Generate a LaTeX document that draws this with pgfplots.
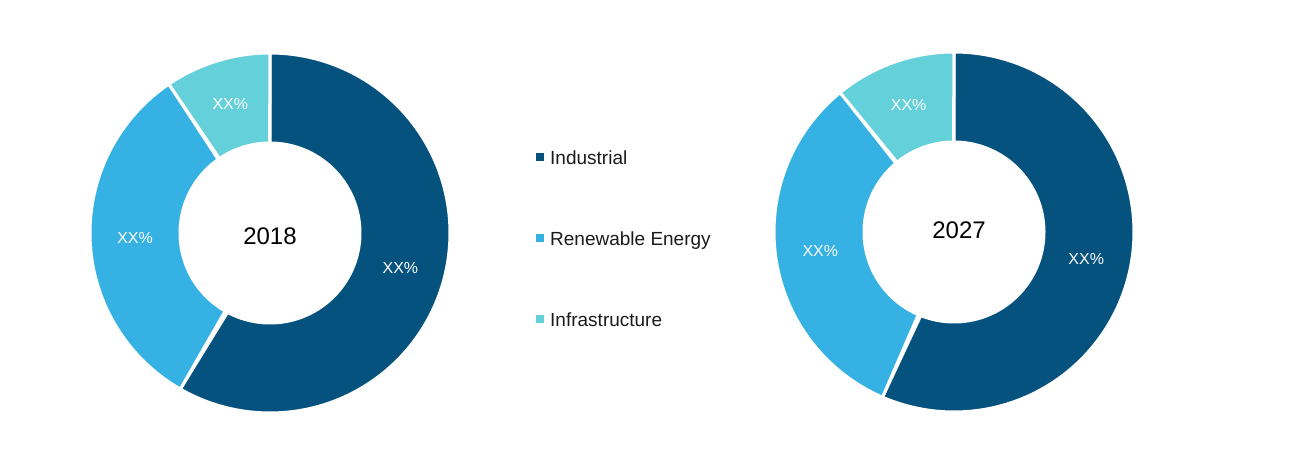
\documentclass[border=0pt]{standalone}
\usepackage{fontspec}
\setmainfont{Liberation Sans}
\usepackage{pgfplots}
\usepackage{pgfplotstable}
\pgfplotsset{compat=1.18}
\definecolor{cInd}{HTML}{05527F}
\definecolor{cRen}{HTML}{35B1E3}
\definecolor{cInf}{HTML}{63D0DA}
\definecolor{cTxt}{HTML}{1A1A1A}

\pgfplotstableread{
year Industrial Renewable Infrastructure
2018 58.3 32.2 9.5
2027 56.5 32.6 10.9
}\shares

\pgfplotstablegetelem{0}{Industrial}\of\shares \let\IndA\pgfplotsretval
\pgfplotstablegetelem{0}{Renewable}\of\shares \let\RenA\pgfplotsretval
\pgfplotstablegetelem{1}{Industrial}\of\shares \let\IndB\pgfplotsretval
\pgfplotstablegetelem{1}{Renewable}\of\shares \let\RenB\pgfplotsretval

% angles (clockwise from 12 o'clock)
\pgfmathsetmacro\aOne{90-3.6*\IndA}
\pgfmathsetmacro\aTwo{\aOne-3.6*\RenA}
\pgfmathsetmacro\bOne{90-3.6*\IndB}
\pgfmathsetmacro\bTwo{\bOne-3.6*\RenB}

% label positions
\newcommand\labpos[5]{% name, cx, cy, a1, a2
  \pgfmathsetmacro\tmpm{(#4+#5)/2}%
  \pgfmathsetmacro\tmpx{#2+135*cos(\tmpm)}%
  \pgfmathsetmacro\tmpy{#3+135*sin(\tmpm)}%
  \expandafter\let\csname #1x\endcsname\tmpx
  \expandafter\let\csname #1y\endcsname\tmpy}
\labpos{lAi}{270}{224}{90}{\aOne}
\labpos{lAr}{270}{224}{\aOne}{\aTwo}
\labpos{lAf}{270}{224}{\aTwo}{-270}
\labpos{lBi}{954}{225}{90}{\bOne}
\labpos{lBr}{954}{225}{\bOne}{\bTwo}
\labpos{lBf}{954}{225}{\bTwo}{-270}

\newcommand\donutwedge[6]{% cx, cy, start, end, colour, extra
  \addplot[fill=#5, draw=white, line width=3pt, domain=0:2, samples=241, #6]
  ({#1 + ifthenelse(x<=1,180,90)*cos(ifthenelse(x<=1,#3+(#4-(#3))*x,#4-(#4-(#3))*(x-1)))},
   {#2 + ifthenelse(x<=1,180,90)*sin(ifthenelse(x<=1,#3+(#4-(#3))*x,#4-(#4-(#3))*(x-1)))}) -- cycle;
}

\begin{document}
\begin{tikzpicture}
\begin{axis}[
  width=1302pt, height=457pt, scale only axis,
  xmin=0, xmax=1302, ymin=0, ymax=457,
  hide axis, clip=false,
  legend cell align=left,
  legend image code/.code={\fill[#1,draw=none] (0pt,-1pt) rectangle (8pt,7pt);},
  legend style={draw=none, fill=none, at={(axis cs:536,306)}, anchor=north west,
    inner sep=0pt, row sep=63.5pt,
    font=\fontsize{19}{22}\selectfont, text=cTxt,
    nodes={text height=13.5pt, text depth=4pt, inner sep=0pt},
    /tikz/every odd column/.append style={column sep=6pt}},
]
\path (axis cs:0,0) rectangle (axis cs:1302,457);
\donutwedge{270}{224}{90}{\aOne}{cInd}{}
\addlegendentry{Industrial}
\donutwedge{270}{224}{\aOne}{\aTwo}{cRen}{}
\addlegendentry{Renewable Energy}
\donutwedge{270}{224}{\aTwo}{-270}{cInf}{}
\addlegendentry{Infrastructure}
\donutwedge{954}{225}{90}{\bOne}{cInd}{forget plot}
\donutwedge{954}{225}{\bOne}{\bTwo}{cRen}{forget plot}
\donutwedge{954}{225}{\bTwo}{-270}{cInf}{forget plot}

\node[font=\fontsize{16}{19}\selectfont, text=white] at (axis cs:\lAix,\lAiy) {XX\%};
\node[font=\fontsize{16}{19}\selectfont, text=white] at (axis cs:\lArx,\lAry) {XX\%};
\node[font=\fontsize{16}{19}\selectfont, text=white] at (axis cs:\lAfx,\lAfy) {XX\%};
\node[font=\fontsize{16}{19}\selectfont, text=white] at (axis cs:\lBix,\lBiy) {XX\%};
\node[font=\fontsize{16}{19}\selectfont, text=white] at (axis cs:\lBrx,\lBry) {XX\%};
\node[font=\fontsize{16}{19}\selectfont, text=white] at (axis cs:\lBfx,\lBfy) {XX\%};
\node[font=\fontsize{24}{28}\selectfont, text=black] at (axis cs:270,221) {2018};
\node[font=\fontsize{24}{28}\selectfont, text=black] at (axis cs:959,227) {2027};
\end{axis}
\end{tikzpicture}
\end{document}
